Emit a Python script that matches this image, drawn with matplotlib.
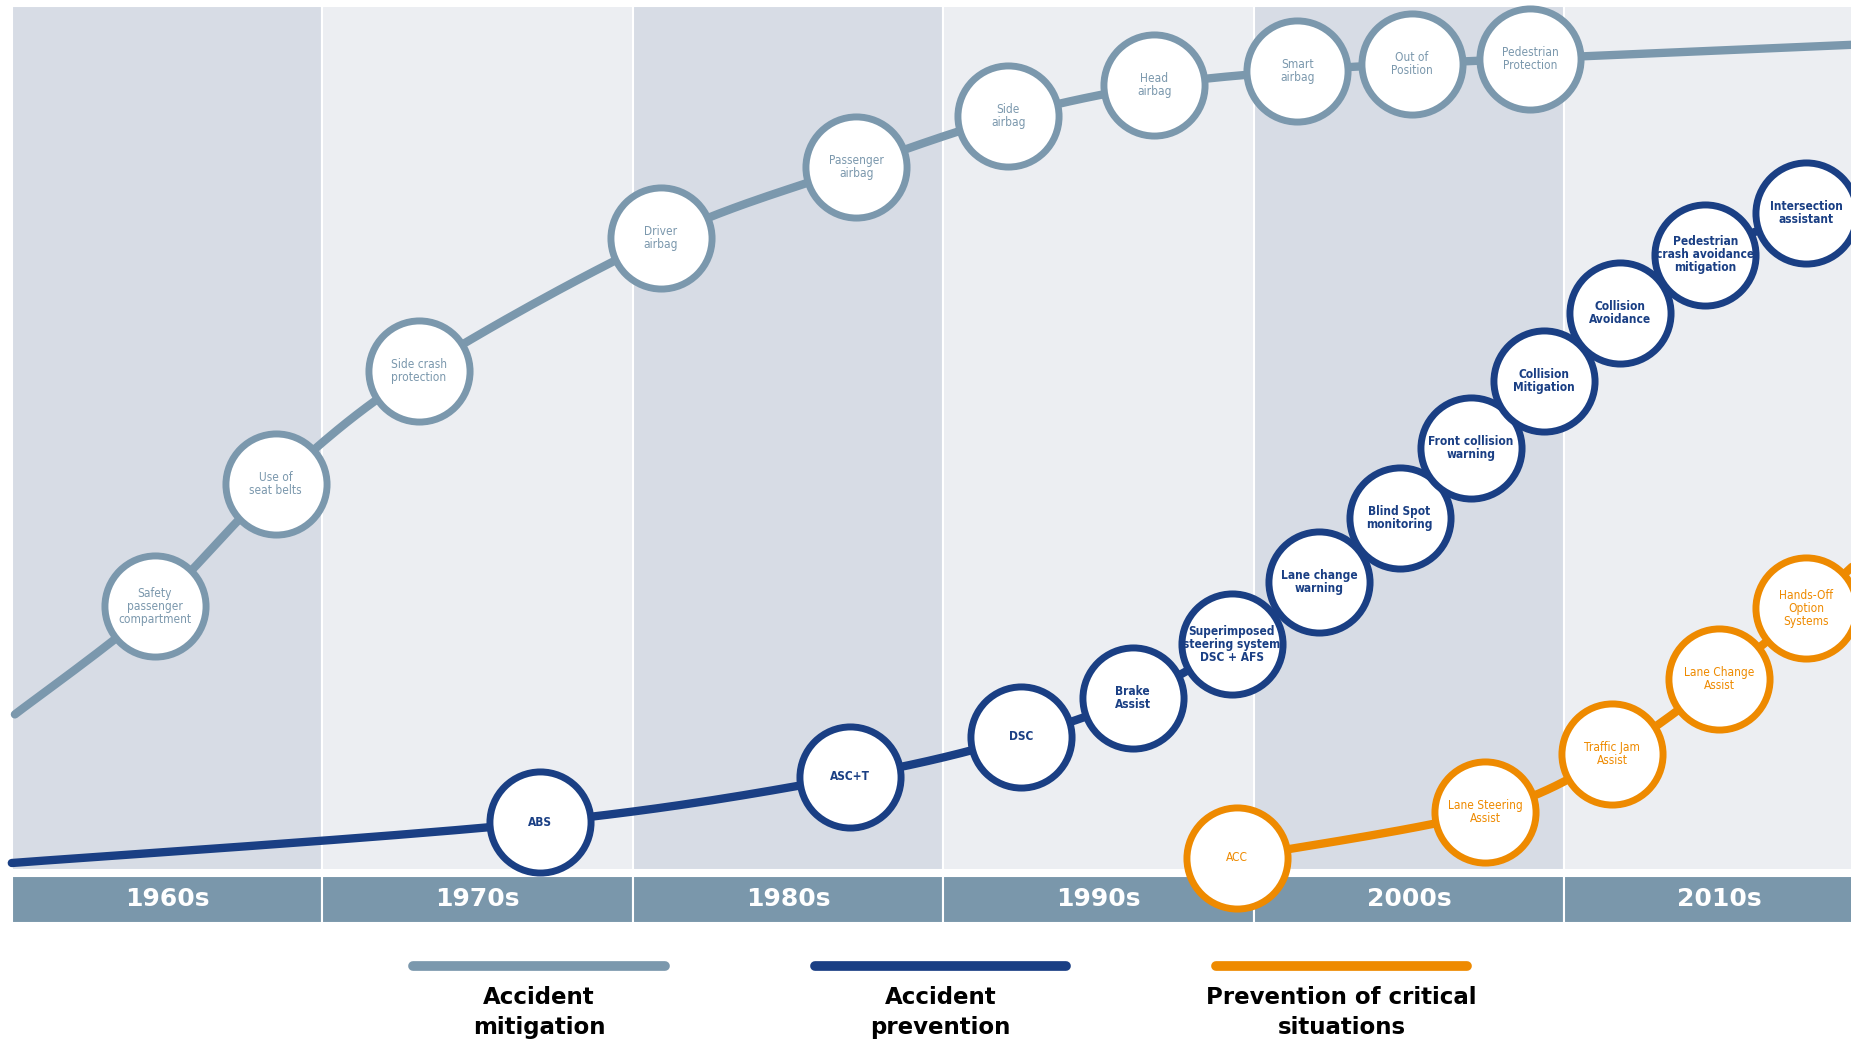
import matplotlib.pyplot as plt
import numpy as np

# timeline bands
decades = [1960, 1970, 1980, 1990, 2000, 2010]
decade_labels = ["1960s", "1970s", "1980s", "1990s", "2000s", "2010s"]
band_colors = ["#d7dce5", "#eceef2", "#d7dce5", "#eceef2", "#d7dce5", "#eceef2"]

# Accident mitigation (year, level)
mit_labels = ["Safety\npassenger\ncompartment", "Use of\nseat belts", "Side crash\nprotection",
              "Driver\nairbag", "Passenger\nairbag", "Side\nairbag", "Head\nairbag",
              "Smart\nairbag", "Out of\nPosition", "Pedestrian\nProtection"]
mit_years = [1964.6, 1968.5, 1973.1, 1980.9, 1987.2, 1992.1, 1996.8, 2001.4, 2005.1, 2008.9]
mit_levels = [30.5, 44.7, 57.7, 73.1, 81.4, 87.2, 90.8, 92.5, 93.3, 93.9]
mit_start = (1960.1, 18.0)
mit_end = (2019.3, 95.5)

# Accident prevention
prev_labels = ["ABS", "ASC+T", "DSC", "Brake\nAssist", "Superimposed\nsteering system\nDSC + AFS",
               "Lane change\nwarning", "Blind Spot\nmonitoring", "Front collision\nwarning",
               "Collision\nMitigation", "Collision\nAvoidance", "Pedestrian\ncrash avoidance\nmitigation",
               "Intersection\nassistant"]
prev_years = [1977.0, 1987.0, 1992.5, 1996.1, 1999.3, 2002.1, 2004.7, 2007.0, 2009.35, 2011.8, 2014.55, 2017.8]
prev_levels = [5.5, 10.8, 15.4, 19.9, 26.1, 33.3, 40.7, 48.8, 56.6, 64.5, 71.2, 76.0]
prev_start = (1960.0, 0.8)
prev_end = (2020.5, 78.1)

# Prevention of critical situations
crit_labels = ["ACC", "Lane Steering\nAssist", "Traffic Jam\nAssist", "Lane Change\nAssist", "Hands-Off\nOption\nSystems"]
crit_years = [1999.45, 2007.45, 2011.55, 2015.0, 2017.8]
crit_levels = [1.4, 6.7, 13.4, 22.1, 30.3]
crit_end = (2019.7, 36.5)

c_mit = "#7b98ad"
c_prev = "#1a3f84"
c_crit = "#ee8a00"


def smooth(xs, ys, n=30):
    # Catmull-Rom curve through the given points
    p = np.column_stack([xs, ys])
    p = np.vstack([p[0], p, p[-1]])
    out = []
    for i in range(1, len(p) - 2):
        p0, p1, p2, p3 = p[i - 1], p[i], p[i + 1], p[i + 2]
        t = np.linspace(0, 1, n)[:, None]
        seg = 0.5 * ((2 * p1) + (-p0 + p2) * t + (2 * p0 - 5 * p1 + 4 * p2 - p3) * t ** 2
                     + (-p0 + 3 * p1 - 3 * p2 + p3) * t ** 3)
        out.append(seg)
    out = np.vstack(out)
    return out[:, 0], out[:, 1]


fig = plt.figure(figsize=(18.51, 10.41), dpi=100)
ax = fig.add_axes([0, 0, 1, 1])
ax.set_xlim(1959.62, 2019.24)
ax.set_ylim(-19.8, 100.68)
ax.axis("off")

# background bands and decade bar
ax.bar(decades, 100, width=10, bottom=0, align="edge", color=band_colors,
       edgecolor="white", linewidth=1.5, zorder=0)
ax.bar(decades, 5.47, width=10, bottom=-6.15, align="edge", color="#7a97ab",
       edgecolor="white", linewidth=1.5, zorder=1)
for d, lab in zip(decades, decade_labels):
    ax.text(d + 5, -3.4, lab, ha="center", va="center", color="white",
            fontsize=18, fontweight="bold", zorder=2)


def series(xs, ys, labels, color, start, end, bold):
    lx = list(xs)
    ly = list(ys)
    if start is not None:
        lx = [start[0]] + lx
        ly = [start[1]] + ly
    lx = lx + [end[0]]
    ly = ly + [end[1]]
    sx, sy = smooth(lx, ly)
    ax.plot(sx, sy, color=color, lw=6, solid_capstyle="round", zorder=2)
    ax.scatter(xs, ys, s=5300, facecolor="white", edgecolor=color, linewidth=5, zorder=3)
    for x, y, t in zip(xs, ys, labels):
        ax.text(x, y, t, ha="center", va="center", color=color, fontsize=8.6,
                fontstretch="condensed", fontweight="bold" if bold else "normal",
                linespacing=1.0, zorder=4)


series(mit_years, mit_levels, mit_labels, c_mit, mit_start, mit_end, False)
series(prev_years, prev_levels, prev_labels, c_prev, prev_start, prev_end, True)
series(crit_years, crit_levels, crit_labels, c_crit, None, crit_end, False)

# legend
legend_items = [("Accident\nmitigation", c_mit, 1972.93, 1981.03),
                ("Accident\nprevention", c_prev, 1985.86, 1993.95),
                ("Prevention of critical\nsituations", c_crit, 1998.78, 2006.88)]
for lab, col, x0, x1 in legend_items:
    ax.plot([x0, x1], [-11.07, -11.07], color=col, lw=7, solid_capstyle="round")
    ax.text((x0 + x1) / 2, -16.5, lab, ha="center", va="center", fontsize=16.5,
            fontweight="bold", color="black", linespacing=1.35)

fig.savefig("out.png", dpi=100)
